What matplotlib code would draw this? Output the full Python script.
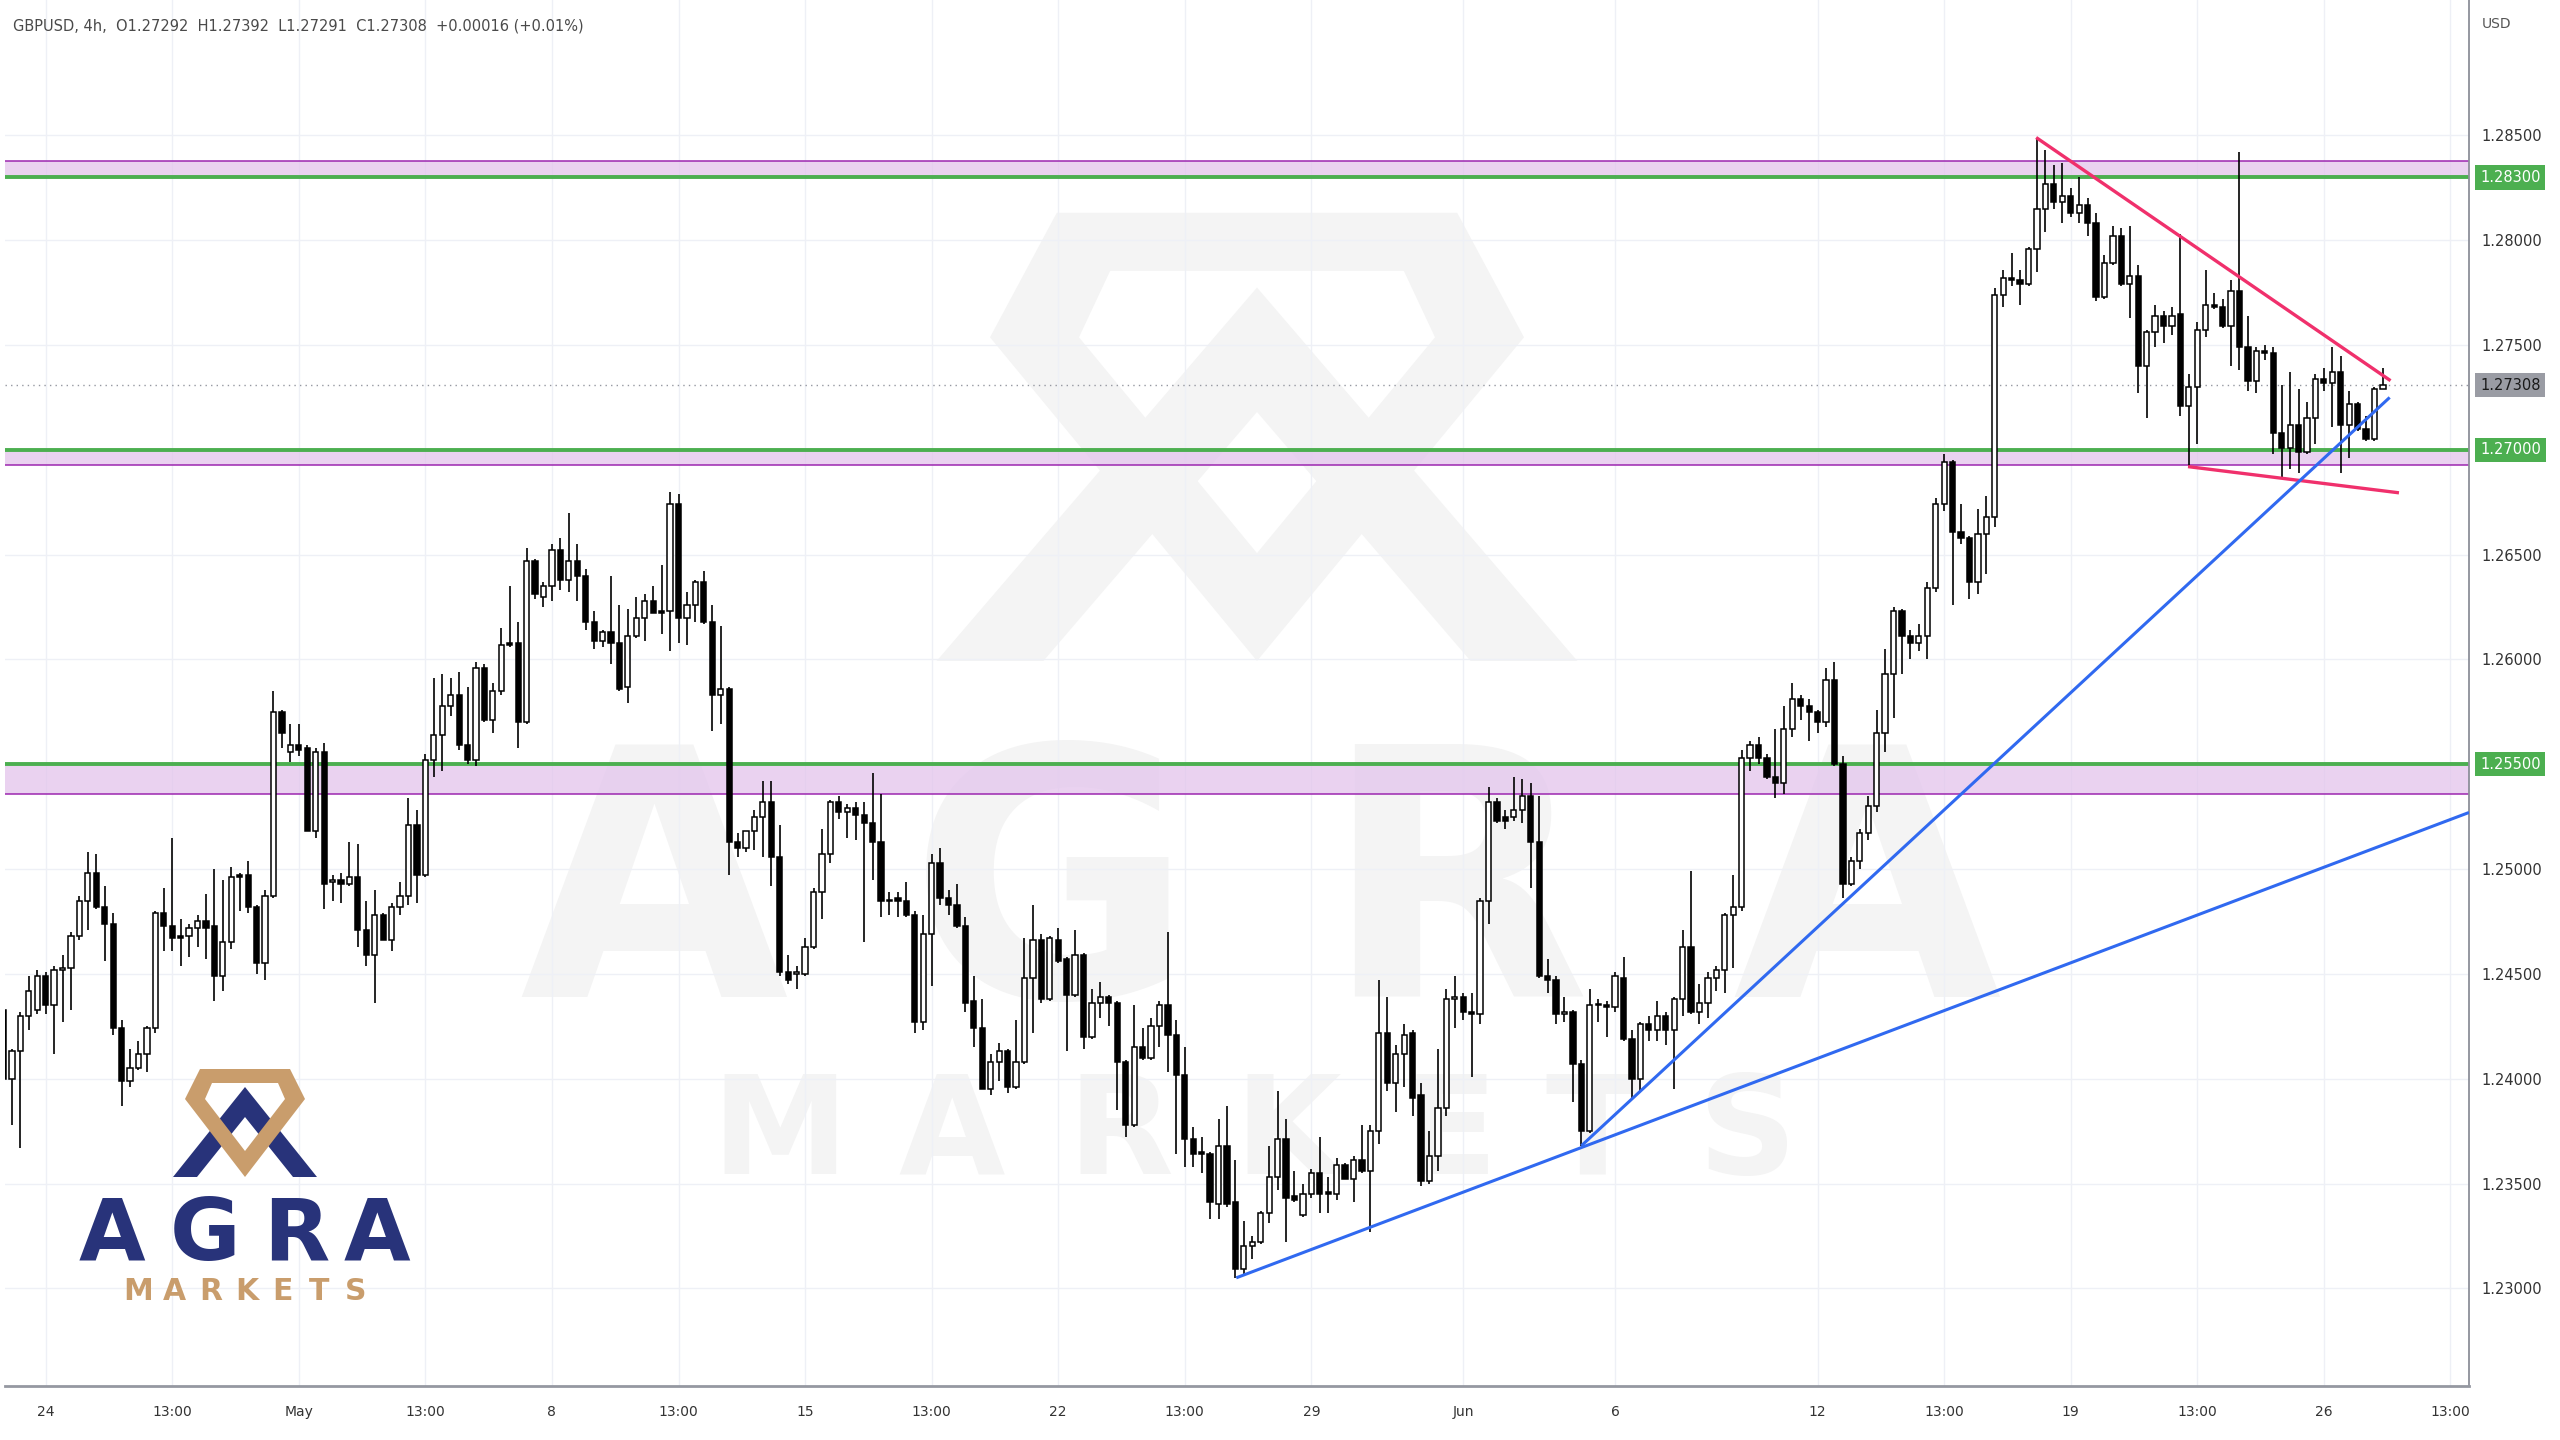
import numpy as np
import matplotlib
matplotlib.use("Agg")
import matplotlib.pyplot as plt
import matplotlib.transforms as mtransforms
from matplotlib.path import Path
from matplotlib.patches import PathPatch, Polygon

# GBPUSD 4h candles (oldest first)
opens = [
    1.2433, 1.2400, 1.2413, 1.2430, 1.2433, 1.2449, 1.2435, 1.2452, 1.2453, 1.2468,
    1.2485, 1.2498, 1.2482, 1.2474, 1.2424, 1.2399, 1.2405, 1.2412, 1.2424, 1.2479,
    1.2473, 1.2468, 1.2468, 1.2472, 1.2475, 1.2473, 1.2449, 1.2465, 1.2497, 1.2497,
    1.2482, 1.2455, 1.2487, 1.2575, 1.2556, 1.2559, 1.2558, 1.2518, 1.2556, 1.2494,
    1.2495, 1.2493, 1.2496, 1.2471, 1.2459, 1.2478, 1.2466, 1.2482, 1.2487, 1.2521,
    1.2497, 1.2552, 1.2564, 1.2578, 1.2583, 1.2559, 1.2552, 1.2596, 1.2571, 1.2585,
    1.2608, 1.2608, 1.2570, 1.2647, 1.2630, 1.2635, 1.2652, 1.2638, 1.2647, 1.2640,
    1.2618, 1.2609, 1.2613, 1.2608, 1.2587, 1.2611, 1.2620, 1.2628, 1.2623, 1.2623,
    1.2674, 1.2620, 1.2626, 1.2637, 1.2618, 1.2583, 1.2586, 1.2513, 1.2510, 1.2518,
    1.2525, 1.2532, 1.2506, 1.2451, 1.2450, 1.2450, 1.2463, 1.2489, 1.2507, 1.2532,
    1.2527, 1.2529, 1.2526, 1.2522, 1.2513, 1.2485, 1.2486, 1.2485, 1.2478, 1.2427,
    1.2469, 1.2503, 1.2486, 1.2483, 1.2473, 1.2437, 1.2424, 1.2395, 1.2408, 1.2413,
    1.2396, 1.2408, 1.2448, 1.2466, 1.2438, 1.2466, 1.2457, 1.2440, 1.2459, 1.2420,
    1.2436, 1.2439, 1.2436, 1.2408, 1.2378, 1.2415, 1.2410, 1.2425, 1.2435, 1.2421,
    1.2402, 1.2371, 1.2365, 1.2364, 1.2340, 1.2368, 1.2341, 1.2309, 1.2320, 1.2322,
    1.2336, 1.2353, 1.2371, 1.2344, 1.2335, 1.2345, 1.2355, 1.2346, 1.2345, 1.2359,
    1.2352, 1.2361, 1.2356, 1.2375, 1.2422, 1.2398, 1.2412, 1.2422, 1.2392, 1.2351,
    1.2363, 1.2386, 1.2438, 1.2439, 1.2432, 1.2431, 1.2485, 1.2532, 1.2525, 1.2525,
    1.2528, 1.2535, 1.2513, 1.2449, 1.2447, 1.2431, 1.2432, 1.2407, 1.2375, 1.2435,
    1.2435, 1.2434, 1.2448, 1.2419, 1.2400, 1.2426, 1.2423, 1.2430, 1.2423, 1.2438,
    1.2463, 1.2432, 1.2436, 1.2448, 1.2452, 1.2478, 1.2482, 1.2553, 1.2559, 1.2553,
    1.2544, 1.2541, 1.2567, 1.2581, 1.2578, 1.2575, 1.2570, 1.2590, 1.2550, 1.2493,
    1.2504, 1.2517, 1.2530, 1.2565, 1.2593, 1.2623, 1.2611, 1.2608, 1.2611, 1.2634,
    1.2674, 1.2694, 1.2661, 1.2658, 1.2637, 1.2660, 1.2668, 1.2774, 1.2782, 1.2781,
    1.2779, 1.2796, 1.2815, 1.2827, 1.2818, 1.2821, 1.2813, 1.2817, 1.2808, 1.2773,
    1.2789, 1.2802, 1.2779, 1.2783, 1.2740, 1.2756, 1.2764, 1.2759, 1.2765, 1.2721,
    1.2730, 1.2757, 1.2769, 1.2768, 1.2759, 1.2776, 1.2749, 1.2733, 1.2747, 1.2746,
    1.2708, 1.2701, 1.2712, 1.2699, 1.2715, 1.2734, 1.2732, 1.2737, 1.2712, 1.2722,
    1.2710, 1.2705, 1.27292,
]
highs = [
    1.2434, 1.2414, 1.2432, 1.2449, 1.2452, 1.2451, 1.2454, 1.2459, 1.2470, 1.2487,
    1.2508, 1.2507, 1.2492, 1.2479, 1.2428, 1.2414, 1.2418, 1.2425, 1.2480, 1.2491,
    1.2515, 1.2476, 1.2474, 1.2478, 1.2488, 1.2500, 1.2495, 1.2501, 1.2498, 1.2504,
    1.2483, 1.2490, 1.2585, 1.2576, 1.2569, 1.2569, 1.2559, 1.2558, 1.2560, 1.2497,
    1.2498, 1.2513, 1.2512, 1.2485, 1.2490, 1.2479, 1.2484, 1.2494, 1.2534, 1.2528,
    1.2555, 1.2591, 1.2593, 1.2591, 1.2594, 1.2587, 1.2599, 1.2598, 1.2589, 1.2615,
    1.2635, 1.2618, 1.2653, 1.2648, 1.2637, 1.2655, 1.2658, 1.2670, 1.2655, 1.2643,
    1.2623, 1.2614, 1.2640, 1.2626, 1.2624, 1.2630, 1.2631, 1.2635, 1.2645, 1.2680,
    1.2679, 1.2632, 1.2638, 1.2642, 1.2626, 1.2616, 1.2587, 1.2517, 1.2518, 1.2528,
    1.2542, 1.2542, 1.2521, 1.2459, 1.2454, 1.2467, 1.2491, 1.2519, 1.2533, 1.2535,
    1.2531, 1.2532, 1.2532, 1.2546, 1.2536, 1.2489, 1.2489, 1.2494, 1.2480, 1.2478,
    1.2507, 1.2510, 1.2490, 1.2493, 1.2477, 1.2449, 1.2438, 1.2412, 1.2417, 1.2414,
    1.2428, 1.2467, 1.2483, 1.2469, 1.2468, 1.2472, 1.2458, 1.2471, 1.2460, 1.2443,
    1.2446, 1.2440, 1.2437, 1.2409, 1.2435, 1.2424, 1.2429, 1.2437, 1.2470, 1.2428,
    1.2415, 1.2377, 1.2372, 1.2365, 1.2381, 1.2387, 1.2361, 1.2332, 1.2325, 1.2337,
    1.2368, 1.2394, 1.2381, 1.2356, 1.2350, 1.2357, 1.2372, 1.2353, 1.2362, 1.2360,
    1.2363, 1.2378, 1.2378, 1.2447, 1.2439, 1.2416, 1.2426, 1.2423, 1.2398, 1.2375,
    1.2414, 1.2443, 1.2449, 1.2441, 1.2441, 1.2486, 1.2539, 1.2534, 1.2528, 1.2544,
    1.2543, 1.2541, 1.2535, 1.2457, 1.2449, 1.2439, 1.2433, 1.2409, 1.2443, 1.2438,
    1.2437, 1.2451, 1.2458, 1.2423, 1.2427, 1.2430, 1.2437, 1.2432, 1.2439, 1.2471,
    1.2499, 1.2445, 1.2451, 1.2454, 1.2479, 1.2497, 1.2557, 1.2561, 1.2563, 1.2555,
    1.2567, 1.2578, 1.2589, 1.2583, 1.2581, 1.2576, 1.2596, 1.2599, 1.2554, 1.2506,
    1.2519, 1.2535, 1.2576, 1.2605, 1.2625, 1.2624, 1.2614, 1.2617, 1.2637, 1.2677,
    1.2698, 1.2695, 1.2674, 1.2659, 1.2672, 1.2678, 1.2777, 1.2786, 1.2794, 1.2786,
    1.2797, 1.2849, 1.2843, 1.2836, 1.2837, 1.2825, 1.2830, 1.2820, 1.2813, 1.2793,
    1.2807, 1.2806, 1.2807, 1.2788, 1.2757, 1.2769, 1.2766, 1.2768, 1.2803, 1.2736,
    1.2761, 1.2786, 1.2775, 1.2772, 1.2781, 1.2842, 1.2764, 1.2749, 1.2750, 1.2749,
    1.2731, 1.2737, 1.2729, 1.2723, 1.2736, 1.2739, 1.2749, 1.2745, 1.2728, 1.2723,
    1.2716, 1.2730, 1.27392,
]
lows = [
    1.2399, 1.2378, 1.2367, 1.2423, 1.2431, 1.2431, 1.2412, 1.2427, 1.2433, 1.2466,
    1.2471, 1.2481, 1.2456, 1.2421, 1.2387, 1.2396, 1.2404, 1.2403, 1.2422, 1.2461,
    1.2461, 1.2454, 1.2458, 1.2463, 1.2457, 1.2437, 1.2442, 1.2462, 1.2480, 1.2479,
    1.2450, 1.2447, 1.2486, 1.2558, 1.2551, 1.2554, 1.2518, 1.2515, 1.2481, 1.2485,
    1.2484, 1.2492, 1.2463, 1.2454, 1.2436, 1.2466, 1.2461, 1.2478, 1.2483, 1.2484,
    1.2496, 1.2544, 1.2547, 1.2573, 1.2557, 1.2550, 1.2549, 1.2570, 1.2565, 1.2583,
    1.2606, 1.2558, 1.2569, 1.2629, 1.2625, 1.2628, 1.2633, 1.2632, 1.2628, 1.2614,
    1.2605, 1.2606, 1.2598, 1.2585, 1.2579, 1.2610, 1.2609, 1.2622, 1.2612, 1.2604,
    1.2608, 1.2607, 1.2618, 1.2617, 1.2566, 1.2569, 1.2497, 1.2506, 1.2508, 1.2509,
    1.2506, 1.2492, 1.2449, 1.2445, 1.2443, 1.2449, 1.2462, 1.2476, 1.2503, 1.2524,
    1.2515, 1.2514, 1.2465, 1.2495, 1.2477, 1.2478, 1.2477, 1.2477, 1.2422, 1.2423,
    1.2444, 1.2483, 1.2478, 1.2472, 1.2432, 1.2415, 1.2395, 1.2392, 1.2399, 1.2393,
    1.2395, 1.2407, 1.2422, 1.2436, 1.2437, 1.2455, 1.2413, 1.2439, 1.2414, 1.2419,
    1.2429, 1.2425, 1.2385, 1.2372, 1.2377, 1.2409, 1.2409, 1.2415, 1.2403, 1.2364,
    1.2358, 1.2358, 1.2355, 1.2333, 1.2333, 1.2339, 1.2305, 1.2306, 1.2314, 1.2321,
    1.2331, 1.2347, 1.2322, 1.2341, 1.2334, 1.2343, 1.2336, 1.2336, 1.2342, 1.2352,
    1.2341, 1.2355, 1.2327, 1.2369, 1.2394, 1.2384, 1.2396, 1.2382, 1.2349, 1.2350,
    1.2356, 1.2382, 1.2424, 1.2428, 1.2401, 1.2426, 1.2474, 1.2522, 1.2519, 1.2523,
    1.2522, 1.2491, 1.2448, 1.2441, 1.2426, 1.2427, 1.2389, 1.2368, 1.2374, 1.2427,
    1.2420, 1.2432, 1.2418, 1.2391, 1.2394, 1.2418, 1.2418, 1.2416, 1.2395, 1.2430,
    1.2431, 1.2426, 1.2429, 1.2442, 1.2441, 1.2453, 1.2480, 1.2547, 1.2550, 1.2543,
    1.2534, 1.2536, 1.2563, 1.2571, 1.2561, 1.2565, 1.2568, 1.2549, 1.2486, 1.2492,
    1.2500, 1.2514, 1.2527, 1.2556, 1.2572, 1.2593, 1.2600, 1.2604, 1.2600, 1.2632,
    1.2671, 1.2626, 1.2655, 1.2629, 1.2631, 1.2641, 1.2663, 1.2768, 1.2778, 1.2769,
    1.2778, 1.2785, 1.2804, 1.2815, 1.2808, 1.2811, 1.2808, 1.2802, 1.2771, 1.2772,
    1.2788, 1.2778, 1.2763, 1.2727, 1.2715, 1.2749, 1.2751, 1.2755, 1.2716, 1.2692,
    1.2703, 1.2754, 1.2767, 1.2758, 1.2740, 1.2738, 1.2728, 1.2727, 1.2743, 1.2698,
    1.2686, 1.2691, 1.2689, 1.2698, 1.2703, 1.2728, 1.2711, 1.2689, 1.2696, 1.2709,
    1.2704, 1.2704, 1.27291,
]
closes = [
    1.2400, 1.2413, 1.2430, 1.2442, 1.2449, 1.2435, 1.2452, 1.2453, 1.2468, 1.2485,
    1.2498, 1.2482, 1.2474, 1.2424, 1.2399, 1.2405, 1.2412, 1.2424, 1.2479, 1.2473,
    1.2467, 1.2467, 1.2472, 1.2475, 1.2472, 1.2449, 1.2465, 1.2496, 1.2496, 1.2482,
    1.2455, 1.2487, 1.2575, 1.2565, 1.2559, 1.2557, 1.2518, 1.2556, 1.2493, 1.2495,
    1.2493, 1.2496, 1.2471, 1.2459, 1.2478, 1.2466, 1.2482, 1.2487, 1.2521, 1.2497,
    1.2552, 1.2564, 1.2578, 1.2583, 1.2559, 1.2552, 1.2596, 1.2571, 1.2585, 1.2607,
    1.2607, 1.2570, 1.2647, 1.2631, 1.2635, 1.2652, 1.2638, 1.2647, 1.2640, 1.2618,
    1.2609, 1.2613, 1.2608, 1.2586, 1.2611, 1.2620, 1.2628, 1.2622, 1.2622, 1.2674,
    1.2620, 1.2626, 1.2637, 1.2618, 1.2583, 1.2586, 1.2513, 1.2510, 1.2518, 1.2525,
    1.2532, 1.2506, 1.2451, 1.2447, 1.2451, 1.2463, 1.2489, 1.2507, 1.2532, 1.2527,
    1.2529, 1.2526, 1.2522, 1.2513, 1.2485, 1.2485, 1.2485, 1.2478, 1.2427, 1.2469,
    1.2503, 1.2486, 1.2483, 1.2473, 1.2436, 1.2424, 1.2395, 1.2408, 1.2413, 1.2396,
    1.2408, 1.2448, 1.2466, 1.2438, 1.2467, 1.2456, 1.2440, 1.2459, 1.2420, 1.2436,
    1.2439, 1.2436, 1.2408, 1.2378, 1.2415, 1.2410, 1.2425, 1.2435, 1.2421, 1.2402,
    1.2371, 1.2364, 1.2364, 1.2341, 1.2368, 1.2340, 1.2309, 1.2320, 1.2322, 1.2336,
    1.2353, 1.2371, 1.2343, 1.2342, 1.2345, 1.2355, 1.2345, 1.2345, 1.2359, 1.2352,
    1.2361, 1.2356, 1.2375, 1.2422, 1.2398, 1.2412, 1.2421, 1.2391, 1.2351, 1.2363,
    1.2386, 1.2438, 1.2439, 1.2432, 1.2431, 1.2485, 1.2532, 1.2523, 1.2523, 1.2528,
    1.2535, 1.2513, 1.2449, 1.2447, 1.2431, 1.2432, 1.2407, 1.2375, 1.2435, 1.2435,
    1.2434, 1.2449, 1.2419, 1.2400, 1.2426, 1.2423, 1.2430, 1.2423, 1.2438, 1.2463,
    1.2432, 1.2436, 1.2448, 1.2452, 1.2478, 1.2482, 1.2553, 1.2559, 1.2553, 1.2544,
    1.2541, 1.2567, 1.2581, 1.2578, 1.2575, 1.2570, 1.2590, 1.2550, 1.2493, 1.2504,
    1.2517, 1.2530, 1.2565, 1.2593, 1.2623, 1.2611, 1.2608, 1.2611, 1.2634, 1.2674,
    1.2694, 1.2661, 1.2658, 1.2637, 1.2660, 1.2668, 1.2774, 1.2782, 1.2781, 1.2779,
    1.2796, 1.2815, 1.2827, 1.2818, 1.2821, 1.2813, 1.2817, 1.2808, 1.2773, 1.2789,
    1.2802, 1.2779, 1.2783, 1.2740, 1.2756, 1.2764, 1.2759, 1.2764, 1.2721, 1.2730,
    1.2757, 1.2769, 1.2768, 1.2759, 1.2776, 1.2749, 1.2733, 1.2747, 1.2746, 1.2708,
    1.2701, 1.2712, 1.2699, 1.2715, 1.2734, 1.2732, 1.2737, 1.2712, 1.2722, 1.2710,
    1.2705, 1.27292, 1.27308,
]

# x axis labels sit on candle numbers
tick_pos = [5, 20, 35, 50, 65, 80, 95, 110, 125, 140, 155, 173, 191, 215, 230, 245, 260, 275, 290]
tick_labels = ['24', '13:00', 'May', '13:00', '8', '13:00', '15', '13:00', '22', '13:00',
               '29', 'Jun', '6', '12', '13:00', '19', '13:00', '26', '13:00']

# horizontal zones (purple) and levels (green)
zone_bottoms = [1.2830, 1.2693, 1.2536]
zone_tops = [1.2838, 1.2700, 1.2550]
green_levels = [1.2830, 1.2700, 1.2550]
last_price = 1.27308

# drawn trend lines: (x0, x1), (y0, y1)
pink_lines = [((240.9, 282.9), (1.2849, 1.2733)),
              ((258.9, 283.9), (1.2692, 1.26795))]
blue_lines = [((146.1, 292.2), (1.2305, 1.2527)),
              ((187.0, 282.8), (1.2368, 1.2725))]

W, H = 2560, 1440
fig = plt.figure(figsize=(25.6, 14.4), dpi=100, facecolor='white')

# ---- background layer: faint watermark
bg = fig.add_axes([0, 0, 1, 1], zorder=0)
bg.set_xlim(0, W)
bg.set_ylim(H, 0)
bg.axis('off')


def draw_logo(axl, cx, by, sx, sy, ring_col, chev_col):
    def tr(pts):
        return [(cx + sx * px, by - sy * py) for px, py in pts]
    chevron = [(-72, 0), (0, 90), (72, 0), (48, 0), (0, 60), (-48, 0)]
    axl.add_patch(Polygon(tr(chevron), closed=True, fc=chev_col, ec='none'))
    outer = tr([(-45, 108), (45, 108), (60, 78), (0, 0), (-60, 78)])
    inner = tr([(-33, 94), (33, 94), (40, 78), (0, 26), (-40, 78)])[::-1]
    verts = outer + [outer[0]] + inner + [inner[0]]
    codes = ([Path.MOVETO] + [Path.LINETO] * 4 + [Path.CLOSEPOLY]) * 2
    axl.add_patch(PathPatch(Path(verts, codes), fc=ring_col, ec='none'))


wm = '#f4f4f4'
draw_logo(bg, 1257, 661, 4.45, 4.15, wm, wm)
for ch, xc in zip('AGRA', [654, 1051, 1456, 1867]):
    bg.text(xc, 997, ch, fontsize=250, fontweight='bold', color=wm, ha='center', va='baseline')
for ch, xc in zip('MARKETS', [780, 952, 1120, 1288, 1450, 1592, 1747]):
    bg.text(xc, 1174, ch, fontsize=99, fontweight='bold', color=wm, ha='center', va='baseline')

# ---- main price axes
ax = fig.add_axes([5 / W, 54 / H, 2464 / W, 1386 / H], zorder=1)
ax.patch.set_alpha(0)

o = np.array(opens)
h = np.array(highs)
l = np.array(lows)
c = np.array(closes)
x = np.arange(len(o))
h = np.maximum(h, np.maximum(o, c))
l = np.minimum(l, np.minimum(o, c))

for lo, hi in zip(zone_bottoms, zone_tops):
    ax.axhspan(lo, hi, facecolor='#e3c4ec', alpha=0.75, lw=0, zorder=1)
    ax.axhline(lo, color='#9c27b0', lw=1.1, zorder=1.5)
    ax.axhline(hi, color='#9c27b0', lw=1.1, zorder=1.5)
for lvl in green_levels:
    ax.axhline(lvl, color='#4caf50', lw=2.8, zorder=2)

ax.axhline(last_price, color='#9598a1', lw=1, ls=(0, (1, 3)), zorder=2)

up = c >= o
ax.vlines(x, l, h, color='black', lw=1.2, zorder=3)
body_lo = np.minimum(o, c)
body_h = np.maximum(np.abs(c - o), 0.00004)
ax.bar(x[up], body_h[up], bottom=body_lo[up], width=0.62, color='white',
       edgecolor='black', linewidth=1.1, zorder=4)
ax.bar(x[~up], body_h[~up], bottom=body_lo[~up], width=0.62, color='black',
       edgecolor='black', linewidth=1.1, zorder=4)

for xs, ys in pink_lines:
    ax.plot(xs, ys, color='#f0306c', lw=2.4, zorder=5, solid_capstyle='butt')
for xs, ys in blue_lines:
    ax.plot(xs, ys, color='#3069f0', lw=2.2, zorder=5, solid_capstyle='butt')

ax.set_xlim(0.18, 292.2)
ax.set_ylim(1.22534, 1.29146)

ax.set_xticks(tick_pos)
ax.set_xticklabels(tick_labels)
yt = np.arange(1.230, 1.2851, 0.005)
ax.set_yticks(yt)
ax.set_yticklabels([f'{v:.5f}' for v in yt])
ax.yaxis.tick_right()
ax.tick_params(axis='y', length=0, pad=9, labelsize=10.5, labelcolor='#333333')
ax.tick_params(axis='x', length=0, pad=14, labelsize=10, labelcolor='#333333')
ax.grid(True, color='#eef0f6', lw=1, zorder=0)
ax.set_axisbelow(True)
for side in ['top', 'left']:
    ax.spines[side].set_visible(False)
ax.spines['right'].set_color('#8c8f99')
ax.spines['bottom'].set_color('#9598a1')
ax.spines['right'].set_linewidth(1.3)
ax.spines['bottom'].set_linewidth(2)

tr_tag = mtransforms.blended_transform_factory(ax.transAxes, ax.transData)
for lvl in green_levels:
    ax.text(1.0045, lvl, f'{lvl:.5f}', transform=tr_tag, ha='left', va='center',
            fontsize=10.5, color='white', zorder=10, clip_on=False,
            bbox=dict(boxstyle='square,pad=0.32', fc='#4caf50', ec='none'))
ax.text(1.0045, last_price, f'{last_price:.5f}', transform=tr_tag, ha='left', va='center',
        fontsize=10.5, color='#1a1a1a', zorder=10, clip_on=False,
        bbox=dict(boxstyle='square,pad=0.32', fc='#9a9ca4', ec='none'))

fig.text(2482 / W, 1 - 24 / H, 'USD', fontsize=10, color='#555555', ha='left', va='center')
fig.text(13 / W, 1 - 26 / H,
         'GBPUSD, 4h,  O1.27292  H1.27392  L1.27291  C1.27308  +0.00016 (+0.01%)',
         fontsize=10.5, color='#4a4a4a', ha='left', va='center')

# ---- foreground: company logo bottom-left
fg = fig.add_axes([0, 0, 1, 1], zorder=2)
fg.set_xlim(0, W)
fg.set_ylim(H, 0)
fg.axis('off')
draw_logo(fg, 245, 1177, 1.0, 1.0, '#c99d6c', '#28337a')
for ch, xc in zip('AGRA', [112, 205, 296, 377]):
    fg.text(xc, 1260, ch, fontsize=62, fontweight='bold', color='#28337a', ha='center', va='baseline')
for k, ch in enumerate('MARKETS'):
    fg.text(138 + 36.2 * k, 1300, ch, fontsize=21.5, fontweight='bold', color='#c99d6c',
            ha='center', va='baseline')

fig.savefig('out.png', dpi=100, facecolor='white')
